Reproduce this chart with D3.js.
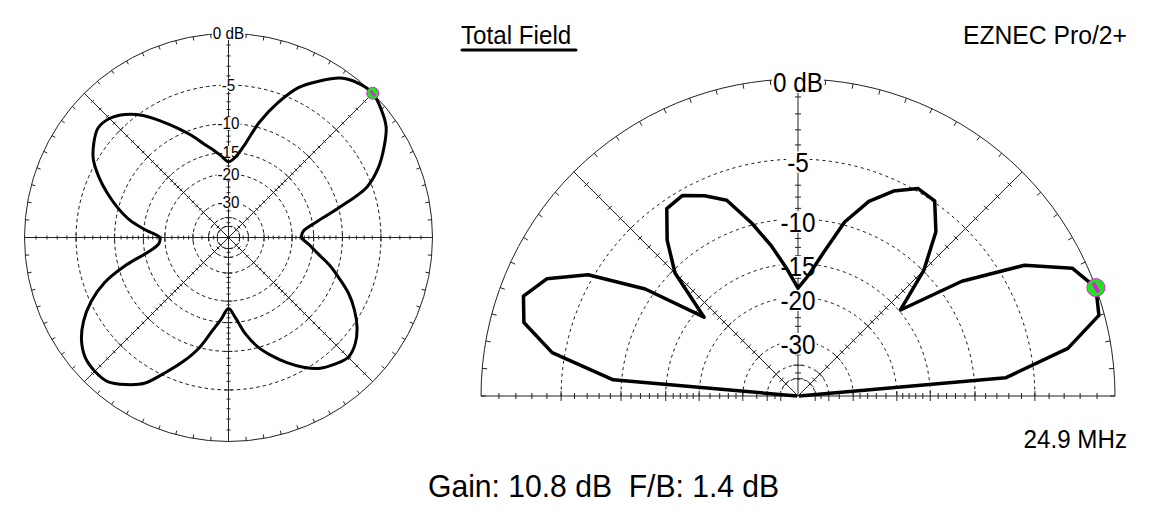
<!DOCTYPE html>
<html>
<head>
<meta charset="utf-8">
<script src="https://cdn.jsdelivr.net/npm/d3@7"></script>
<style>
body { margin: 0; background: #fff; }
svg { display: block; font-family: "Liberation Sans", Arial, Helvetica, sans-serif; }
</style>
</head>
<body>
<svg id="chart" width="1153" height="518"></svg>
<script>
// azimuth pattern (deg, counter-clockwise from east), 5 deg steps, dB
var azAngles = d3.range(0, 360, 5);
var azGain = [
    -17.6, -17.1, -14.2, -10.0, -5.6, -3.6, -2.2, -1.0, -0.4, 0.0,
    -0.2, -0.8, -2.1, -3.6, -6.1, -9.2, -13.2, -15.9, -17.0, -15.7,
    -14.2, -12.7, -10.8, -9.0, -7.2, -5.4, -4.1, -3.3, -3.1, -3.7,
    -4.6, -6.1, -7.9, -9.9, -12.2, -15.5, -18.6, -18.4, -15.9, -11.3,
    -7.5, -5.1, -3.4, -2.2, -1.5, -1.3, -1.4, -2.2, -3.3, -5.4,
    -7.5, -9.9, -13.1, -15.7, -18.1, -15.9, -12.6, -10.1, -8.3, -6.7,
    -5.3, -4.2, -3.6, -3.2, -3.6, -4.5, -5.8, -7.4, -9.5, -11.6,
    -14.0, -15.9
];

// elevation pattern (deg above horizon), 5 deg steps, dB
var elAngles = d3.range(0, 185, 5);
var elGain = [
    -99, -7.2, -2.5, -0.3, 0.0, -0.8, -3.3, -7.9, -14.8, -9.9,
    -6.7, -4.9, -4.8, -5.8, -7.3, -9.7, -13.4, -16.5, -18.5, -15.6,
    -12.6, -9.8, -7.2, -6.2, -5.4, -5.6, -7.6, -10.3, -16.3, -9.1,
    -4.6, -2.3, -1.4, -1.9, -4.1, -9.2, -99
];

var ringLevels = [-5, -10, -15, -20, -30, -40, -50];
var ringLabels = [-5, -10, -15, -20, -30];
var minorTicks = [-1, -2, -3, -4, -6, -7, -8, -9, -11, -12, -13, -14,
                  -16, -17, -18, -19, -22, -24, -26, -28, -35, -45];

var svg = d3.select("#chart");
var rad = Math.PI / 180;

// ARRL log scale: 0.89 radius factor per 2 dB
function arrl(db) { return Math.pow(0.89, -db / 2); }

// narrow the glyphs a little, EZNEC text is tall and thin
function squeeze(sel, k) {
    var w = sel.node().getComputedTextLength();
    sel.attr("textLength", w * k).attr("lengthAdjust", "spacingAndGlyphs");
    return sel;
}

function drawPlot(cfg) {
    var g = svg.append("g")
        .attr("transform", "translate(" + cfg.cx + "," + cfg.cy + ")");

    var r = d3.scaleLinear().domain([0, 1]).range([0, cfg.R]);
    function rr(db) { return r(arrl(db)); }
    function pt(deg, rv) { return [rv * Math.cos(deg * rad), -rv * Math.sin(deg * rad)]; }

    function ring(rv) {
        if (cfg.half) {
            var p = d3.path();
            p.moveTo(-rv, 0);
            p.arc(0, 0, rv, Math.PI, 2 * Math.PI);
            return g.append("path").attr("d", p.toString());
        }
        return g.append("circle").attr("r", rv);
    }

    // dashed dB rings
    ringLevels.forEach(function(db) {
        ring(rr(db))
            .attr("fill", "none")
            .attr("stroke", "#111")
            .attr("stroke-width", 1)
            .attr("stroke-dasharray", cfg.dash);
    });

    // outer 0 dB circle
    ring(cfg.R).attr("fill", "none").attr("stroke", "#222").attr("stroke-width", 1);

    // degree ticks on the outer circle
    var degs = cfg.half ? d3.range(0, 181, 5) : d3.range(0, 360, 5);
    g.selectAll(".degtick")
        .data(degs)
        .enter().append("line")
        .attr("class", "degtick")
        .attr("x1", function(d) { return pt(d, cfg.R)[0]; })
        .attr("y1", function(d) { return pt(d, cfg.R)[1]; })
        .attr("x2", function(d) { return pt(d, cfg.R - cfg.degTick)[0]; })
        .attr("y2", function(d) { return pt(d, cfg.R - cfg.degTick)[1]; })
        .attr("stroke", "#222")
        .attr("stroke-width", 1);

    // spokes
    g.selectAll(".spoke")
        .data(cfg.spokes)
        .enter().append("line")
        .attr("class", "spoke")
        .attr("x1", 0).attr("y1", 0)
        .attr("x2", function(d) { return pt(d, cfg.R)[0]; })
        .attr("y2", function(d) { return pt(d, cfg.R)[1]; })
        .attr("stroke", "#222")
        .attr("stroke-width", 1);

    // dB ticks across every spoke
    var ticks = [];
    cfg.spokes.forEach(function(a) {
        ringLevels.forEach(function(db) { ticks.push({a: a, db: db, len: cfg.major}); });
        minorTicks.forEach(function(db) { ticks.push({a: a, db: db, len: cfg.minor}); });
    });
    g.selectAll(".dbtick")
        .data(ticks)
        .enter().append("line")
        .attr("class", "dbtick")
        .attr("x1", function(d) { var c = pt(d.a, rr(d.db)), n = pt(d.a + 90, d.len); return c[0] + n[0]; })
        .attr("y1", function(d) { var c = pt(d.a, rr(d.db)), n = pt(d.a + 90, d.len); return c[1] + n[1]; })
        .attr("x2", function(d) { var c = pt(d.a, rr(d.db)), n = pt(d.a + 90, d.len); return c[0] - n[0]; })
        .attr("y2", function(d) { var c = pt(d.a, rr(d.db)), n = pt(d.a + 90, d.len); return c[1] - n[1]; })
        .attr("stroke", "#222")
        .attr("stroke-width", 1);

    // labels on the vertical axis, with white backing
    function label(txt, rv) {
        var t = g.append("text")
            .attr("x", 0)
            .attr("y", -rv + cfg.fontSize * 0.36 + cfg.labelDy)
            .attr("text-anchor", "middle")
            .attr("font-size", cfg.fontSize)
            .attr("fill", "#000")
            .text(txt);
        squeeze(t, cfg.squeeze);
        var b = t.node().getBBox();
        var h = cfg.fontSize * 0.8;
        g.insert("rect", function() { return t.node(); })
            .attr("x", b.x - 1)
            .attr("y", -rv + cfg.labelDy - h / 2)
            .attr("width", b.width + 2)
            .attr("height", h)
            .attr("fill", "#fff");
    }
    label("0 dB", cfg.R);
    ringLabels.forEach(function(db) { label(String(db), rr(db)); });

    // pattern
    var pts = cfg.angles.map(function(a, i) { return {a: a, g: cfg.gain[i]}; });
    var line = d3.lineRadial()
        .angle(function(d) { return (90 - d.a) * rad; })
        .radius(function(d) { return rr(d.g); })
        .curve(cfg.curve);
    g.append("path")
        .attr("d", line(pts))
        .attr("fill", "none")
        .attr("stroke", "#000")
        .attr("stroke-width", cfg.lineWidth)
        .attr("stroke-linejoin", "round");

    // max marker
    var iMax = d3.maxIndex(pts, function(d) { return d.g; });
    var m = pt(pts[iMax].a, rr(pts[iMax].g));
    var prev = pts[(iMax - 1 + pts.length) % pts.length], next = pts[(iMax + 1) % pts.length];
    var p0 = pt(prev.a, rr(prev.g)), p1 = pt(next.a, rr(next.g));
    var tx = p1[0] - p0[0], ty = p1[1] - p0[1], tl = Math.sqrt(tx * tx + ty * ty);
    tx = tx / tl * cfg.markR * 0.6; ty = ty / tl * cfg.markR * 0.6;
    g.append("circle")
        .attr("cx", m[0]).attr("cy", m[1]).attr("r", cfg.markR)
        .attr("fill", "#1ee61e")
        .attr("stroke", "#e020e0")
        .attr("stroke-width", 1);
    g.append("line")
        .attr("x1", m[0] - tx).attr("y1", m[1] - ty)
        .attr("x2", m[0] + tx).attr("y2", m[1] + ty)
        .attr("stroke", "#e020e0")
        .attr("stroke-width", cfg.markR * 0.45);
}

drawPlot({
    cx: 228.5, cy: 237.5, R: 204, half: false,
    spokes: [0, 45, 90, 135, 180, 225, 270, 315],
    dash: "3.5,3", degTick: 4, major: 4, minor: 2,
    fontSize: 16, squeeze: 0.95, labelDy: 0,
    angles: azAngles, gain: azGain,
    curve: d3.curveCatmullRomClosed.alpha(0.5),
    lineWidth: 3, markR: 6
});

drawPlot({
    cx: 798, cy: 396, R: 317, half: true,
    spokes: [0, 45, 90, 135, 180],
    dash: "3,3.5", degTick: 5, major: 5, minor: 3,
    fontSize: 27, squeeze: 0.9, labelDy: 3,
    angles: elAngles, gain: elGain,
    curve: d3.curveLinear,
    lineWidth: 3.5, markR: 9
});

// titles
var title = svg.append("text")
    .attr("x", 461).attr("y", 44)
    .attr("font-size", 26)
    .text("Total Field");
squeeze(title, 0.93);
svg.append("line")
    .attr("x1", 462).attr("x2", 576)
    .attr("y1", 50).attr("y2", 50)
    .attr("stroke", "#000")
    .attr("stroke-width", 3)
    .attr("stroke-linecap", "round");

squeeze(svg.append("text")
    .attr("x", 1127).attr("y", 44)
    .attr("text-anchor", "end")
    .attr("font-size", 26)
    .text("EZNEC Pro/2+"), 0.95);

squeeze(svg.append("text")
    .attr("x", 1127).attr("y", 448)
    .attr("text-anchor", "end")
    .attr("font-size", 26)
    .text("24.9 MHz"), 0.93);

squeeze(svg.append("text")
    .attr("x", 428).attr("y", 497)
    .attr("font-size", 32)
    .style("white-space", "pre")
    .text("Gain: 10.8 dB  F/B: 1.4 dB"), 0.94);
</script>
</body>
</html>
